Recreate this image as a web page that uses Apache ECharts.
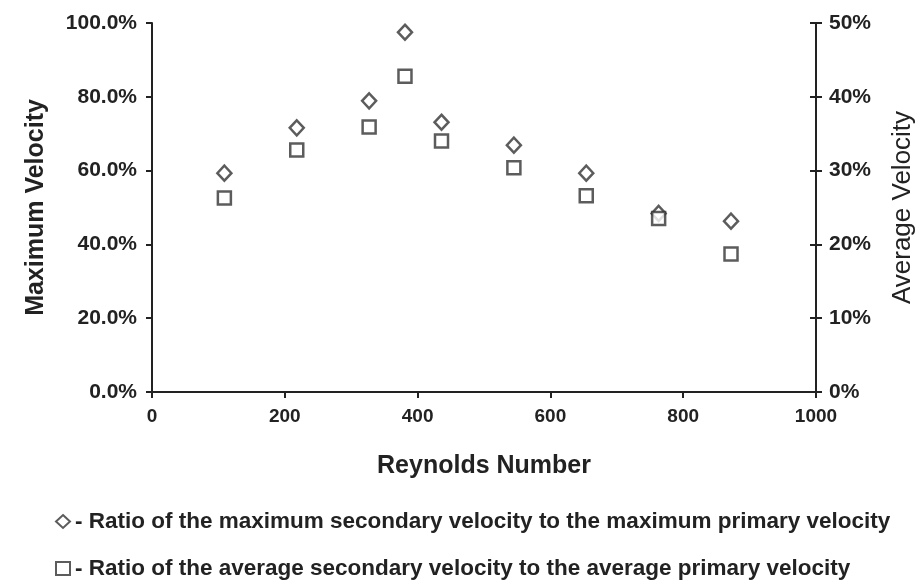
<!DOCTYPE html>
<html>
<head>
<meta charset="utf-8">
<script src="https://cdn.jsdelivr.net/npm/echarts@6/dist/echarts.min.js"></script>
<style>
  html, body { margin: 0; padding: 0; background: #fff; }
  #chart { width: 924px; height: 582px; }
</style>
</head>
<body>
<div id="chart"></div>
<script>
// Reynolds numbers for each measurement
var reynolds = [109, 218, 327, 381, 436, 545, 654, 763, 872];
// max secondary / max primary velocity (%), left axis
var maxRatio = [59.3, 71.6, 78.9, 97.5, 73.1, 66.9, 59.3, 48.4, 46.3];
// avg secondary / avg primary velocity (%), right axis
var avgRatio = [26.3, 32.8, 35.9, 42.8, 34.0, 30.4, 26.6, 23.5, 18.7];

var maxName = 'Ratio of the maximum secondary velocity to the maximum primary velocity';
var avgName = 'Ratio of the average secondary velocity to the average primary velocity';

function pairs(xs, ys) {
    return xs.map(function (x, i) { return [x, ys[i]]; });
}

var ink = '#222';
var font = 'Liberation Sans';

function legendRow(name, top) {
    return {
        left: 50,
        top: top,
        itemWidth: 14,
        itemHeight: 13,
        formatter: '- {name}',
        textStyle: { fontFamily: font, fontWeight: 'bold', fontSize: 22.5, color: ink },
        data: [name]
    };
}

var myChart = echarts.init(document.getElementById('chart'));
myChart.setOption({
    animation: false,
    backgroundColor: '#fff',
    textStyle: { fontFamily: font, color: ink },
    grid: { left: 152, right: 106, top: 23, bottom: 190 },
    legend: [legendRow(maxName, 505), legendRow(avgName, 552)],
    xAxis: {
        type: 'value',
        min: 0,
        max: 1000,
        interval: 200,
        name: 'Reynolds Number',
        nameLocation: 'middle',
        nameGap: 62,
        nameTextStyle: { fontWeight: 'bold', fontSize: 25, color: ink },
        axisLine: { onZero: false, lineStyle: { color: ink, width: 2 } },
        axisTick: { show: true, length: 6, lineStyle: { color: ink, width: 2 } },
        axisLabel: {
            fontWeight: 'bold', fontSize: 19, color: ink, margin: 15,
            formatter: function (v) { return String(v); }
        },
        splitLine: { show: false }
    },
    yAxis: [
        {
            type: 'value',
            min: 0,
            max: 100,
            interval: 20,
            name: 'Maximum Velocity',
            nameLocation: 'middle',
            nameGap: 103,
            nameTextStyle: { fontWeight: 'bold', fontSize: 25, color: ink },
            axisLine: { show: true, lineStyle: { color: ink, width: 2 } },
            axisTick: { show: true, length: 6, lineStyle: { color: ink, width: 2 } },
            axisLabel: {
                fontWeight: 'bold', fontSize: 21, color: ink, margin: 15,
                formatter: function (v) { return v.toFixed(1) + '%'; }
            },
            splitLine: { show: false }
        },
        {
            type: 'value',
            min: 0,
            max: 50,
            interval: 10,
            position: 'right',
            name: 'Average Velocity',
            nameLocation: 'middle',
            nameGap: 74,
            nameTextStyle: { fontWeight: 'normal', fontSize: 26, color: ink },
            axisLine: { show: true, lineStyle: { color: ink, width: 2 } },
            axisTick: { show: true, length: 6, lineStyle: { color: ink, width: 2 } },
            axisLabel: {
                fontWeight: 'bold', fontSize: 21, color: ink, margin: 13,
                formatter: '{value}%'
            },
            splitLine: { show: false }
        },
        {
            // same scale as the right axis, only draws the inner half of its crossing ticks
            type: 'value',
            min: 0,
            max: 50,
            interval: 10,
            position: 'right',
            axisLine: { show: false },
            axisTick: { show: true, inside: true, length: 6, lineStyle: { color: ink, width: 2 } },
            axisLabel: { show: false },
            splitLine: { show: false }
        }
    ],
    series: [
        {
            name: maxName,
            type: 'scatter',
            yAxisIndex: 0,
            symbol: 'diamond',
            symbolSize: [14, 15],
            itemStyle: { color: '#fff', borderColor: '#333', borderWidth: 2.5 },
            data: pairs(reynolds, maxRatio)
        },
        {
            name: avgName,
            type: 'scatter',
            yAxisIndex: 1,
            symbol: 'rect',
            symbolSize: 13,
            itemStyle: { color: '#fff', borderColor: '#333', borderWidth: 2.5 },
            data: pairs(reynolds, avgRatio)
        }
    ]
});
</script>
</body>
</html>
